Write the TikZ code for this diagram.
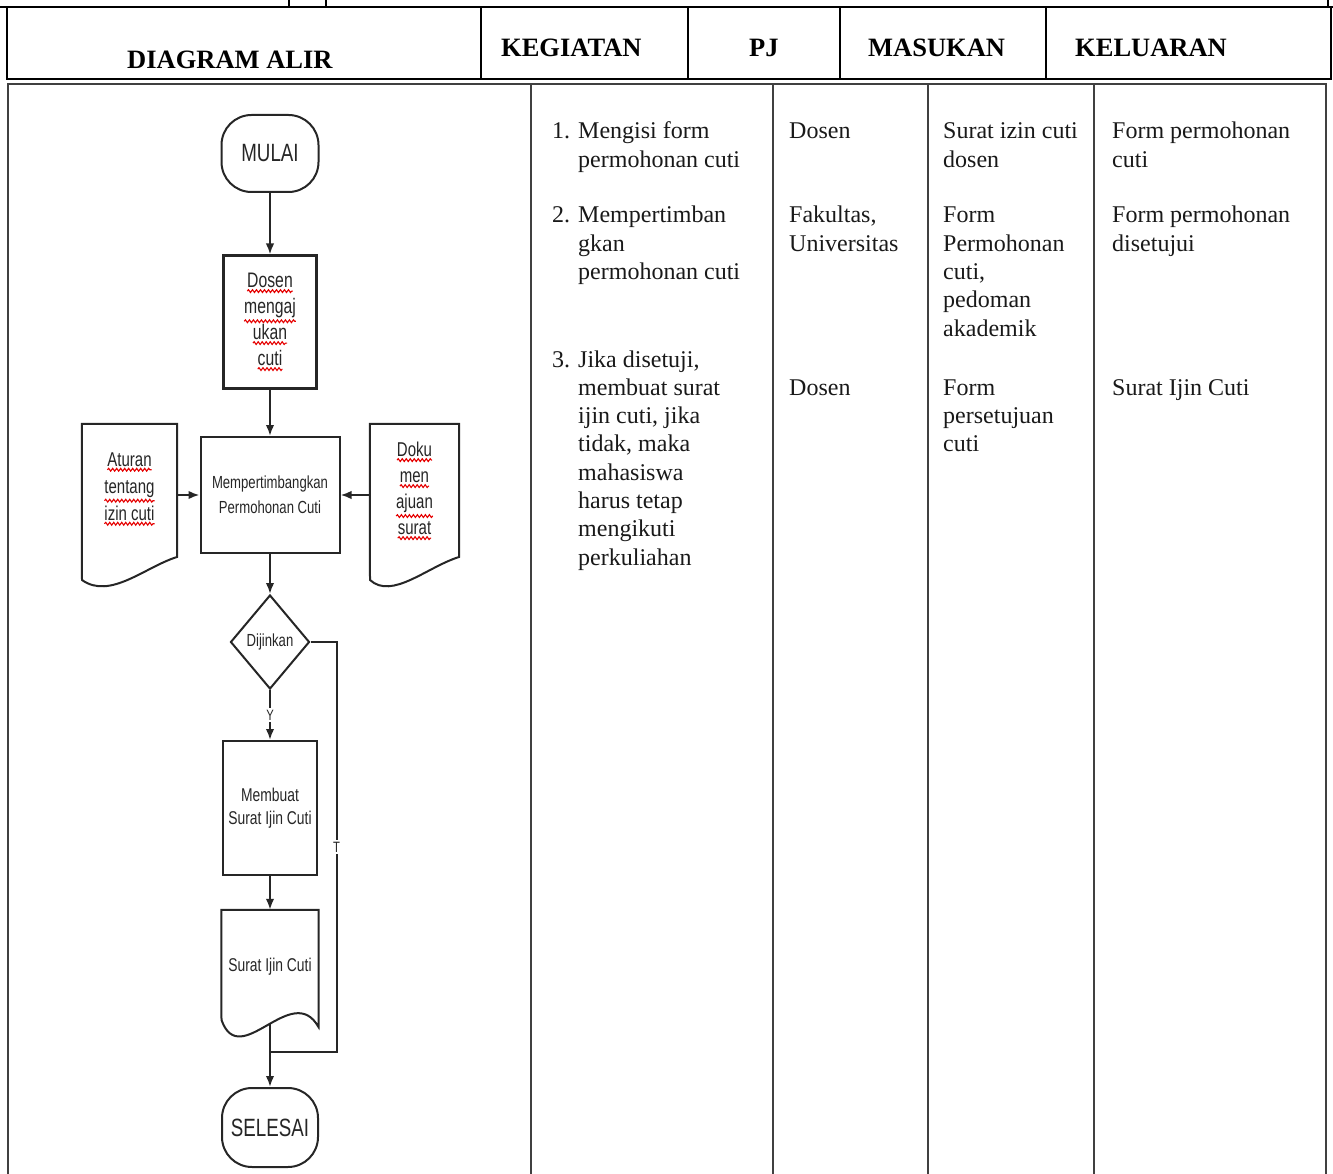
\documentclass[tikz,border=0pt]{standalone}
\usepackage{fontspec}
\setmainfont{Liberation Serif}
\newfontfamily\flowfont[FakeStretch=0.75]{Liberation Sans}
\usetikzlibrary{arrows.meta,decorations.pathmorphing,shapes.geometric,calc}

% word with a red wavy underline
\newcommand\redsq[1]{\tikz[baseline=(sqw.base),x=1pt,y=1pt]{%
  \node[rectangle,draw=none,fill=none,minimum width=0pt,minimum height=0pt,
        inner sep=0pt,outer sep=0pt,anchor=base,line width=0.4pt](sqw){#1};%
  \draw[red!90!black,line width=1.1pt,decorate,
        decoration={snake,amplitude=1.4pt,segment length=4pt}]
       ([yshift=-3.5pt]sqw.south west)--([yshift=-3.5pt]sqw.south east);}}

\begin{document}
\begin{tikzpicture}[x=1pt,y=-1pt,
  hdr/.style={font=\fontsize{26.5}{30}\selectfont\bfseries, inner sep=0pt, anchor=base west},
  tcell/.style={font=\fontsize{24}{28.3}\selectfont, text=black!90, inner sep=0pt, anchor=base west},
  tline/.style={line width=2.6pt, black},
  gridline/.style={line width=2.4pt, black!75},
  fbox/.style={draw=black!85, line width=2pt},
  ftext/.style={font=\flowfont\fontsize{18}{25}\selectfont, text=black!85, align=center},
  fline/.style={line width=2pt, black!85},
  arr/.style={fline, -{Latex[length=11pt,width=8.5pt]}},
  lbl/.style={fill=white, inner sep=2pt, font=\flowfont\fontsize{15}{15}\selectfont, text=black!85}
]
\useasboundingbox (0,0) rectangle (1333,1174);

% ---------- header row ----------
\draw[tline] (0,7) -- (1333,7);
\draw[tline] (289,0) -- (289,7) (326,0) -- (326,7) (1328,0) -- (1328,7);
\draw[tline] (7,7) rectangle (1331,79);
\foreach \xx in {481,688,840,1046} \draw[tline] (\xx,7) -- (\xx,79);
\node[hdr] (hflow) at (127,69) {DIAGRAM ALIR};
\node[hdr] (hkeg)  at (501,57) {KEGIATAN};
\node[hdr] (hpj)   at (749,57) {PJ};
\node[hdr] (hmas)  at (868,57) {MASUKAN};
\node[hdr] (hkel)  at (1075,57) {KELUARAN};

% ---------- body grid ----------
\draw[gridline] (8,1174) -- (8,84) -- (1326,84) -- (1326,1174);
\foreach \xx in {531,773,928,1094} \draw[gridline] (\xx,84) -- (\xx,1174);

% ---------- KEGIATAN ----------
\node[tcell] (k1) at (552,139) {\begin{tabular}[t]{@{}p{26pt}@{}l@{}}1.&Mengisi form\\&permohonan cuti\end{tabular}};
\node[tcell] (k2) at (552,223) {\begin{tabular}[t]{@{}p{26pt}@{}l@{}}2.&Mempertimban\\&gkan\\&permohonan cuti\end{tabular}};
\node[tcell] (k3) at (552,367) {\begin{tabular}[t]{@{}p{26pt}@{}l@{}}3.&Jika disetuji,\\&membuat surat\\&ijin cuti, jika\\&tidak, maka\\&mahasiswa\\&harus tetap\\&mengikuti\\&perkuliahan\end{tabular}};

% ---------- PJ ----------
\node[tcell] (p1) at (789,139) {Dosen};
\node[tcell] (p2) at (789,223) {\begin{tabular}[t]{@{}l@{}}Fakultas,\\Universitas\end{tabular}};
\node[tcell] (p3) at (789,395) {Dosen};

% ---------- MASUKAN ----------
\node[tcell] (m1) at (943,139) {\begin{tabular}[t]{@{}l@{}}Surat izin cuti\\dosen\end{tabular}};
\node[tcell] (m2) at (943,223) {\begin{tabular}[t]{@{}l@{}}Form\\Permohonan\\cuti,\\pedoman\\akademik\end{tabular}};
\node[tcell] (m3) at (943,395) {\begin{tabular}[t]{@{}l@{}}Form\\persetujuan\\cuti\end{tabular}};

% ---------- KELUARAN ----------
\node[tcell] (o1) at (1112,139) {\begin{tabular}[t]{@{}l@{}}Form permohonan\\cuti\end{tabular}};
\node[tcell] (o2) at (1112,223) {\begin{tabular}[t]{@{}l@{}}Form permohonan\\disetujui\end{tabular}};
\node[tcell] (o3) at (1112,395) {Surat Ijin Cuti};

% ---------- flowchart ----------
\node[fbox, rounded corners=30pt, minimum width=97pt, minimum height=77pt,
      ftext, font=\flowfont\fontsize{25}{25}\selectfont] (mulai) at (270,153.5) {MULAI};

\node[fbox, line width=3pt, minimum width=93pt, minimum height=132pt,
      ftext, font=\flowfont\fontsize{21}{26}\selectfont] (ajukan) at (270,322)
      {\redsq{Dosen}\\\redsq{mengaj}\\\redsq{ukan}\\\redsq{cuti}};

\node[fbox, minimum width=139pt, minimum height=116pt,
      ftext, font=\flowfont\fontsize{17.5}{25}\selectfont] (pert) at (270,495)
      {Mempertimbangkan\\Permohonan Cuti};

% document: rules on leave
\node[minimum width=95pt, minimum height=130pt, ftext,
      font=\flowfont\fontsize{20}{27}\selectfont] (aturan) at (129.5,489)
      {\redsq{Aturan}\\\redsq{tentang}\\\redsq{izin cuti}};
\draw[fbox] (aturan.north west) -- (aturan.north east) -- (177,557)
      .. controls (145,567) and (110,600) .. (82,580) -- cycle;

% document: submission papers
\node[minimum width=89pt, minimum height=134pt, ftext,
      font=\flowfont\fontsize{20}{26}\selectfont] (doku) at (414.5,491)
      {\redsq{Doku}\\\redsq{men}\\\redsq{ajuan}\\\redsq{surat}};
\draw[fbox] (doku.north west) -- (doku.north east) -- (459,557)
      .. controls (427,567) and (392,600) .. (370,580) -- cycle;

\node[fbox, diamond, minimum width=79pt, minimum height=94pt, inner sep=1pt,
      ftext, font=\flowfont\fontsize{17.5}{17.5}\selectfont] (dij) at (270,642) {Dijinkan};

\node[fbox, minimum width=94pt, minimum height=134pt,
      ftext, font=\flowfont\fontsize{18.5}{23}\selectfont] (membuat) at (270,808)
      {Membuat\\Surat Ijin Cuti};

% document: leave letter
\node[minimum width=97pt, minimum height=113pt, ftext,
      font=\flowfont\fontsize{18.5}{23}\selectfont] (suratdoc) at (270,966.5) {Surat Ijin Cuti};
\draw[fbox] (suratdoc.north west) -- (suratdoc.north east) -- (318.5,1027)
      .. controls (292,980) and (240,1072) .. (221.5,1020) -- cycle;

\node[fbox, rounded corners=30pt, minimum width=96pt, minimum height=79pt,
      ftext, font=\flowfont\fontsize{25}{25}\selectfont] (selesai) at (270,1127.5) {SELESAI};

% connectors
\path (dij.east) ++(26,0) coordinate (tc);
\coordinate (join) at (270,1052);

\draw[arr] (mulai.south) -- (ajukan.north);
\draw[arr] (ajukan.south) -- (pert.north);
\draw[arr] (aturan.east |- pert.west) -- (pert.west);
\draw[arr] (doku.west |- pert.east) -- (pert.east);
\draw[arr] (pert.south) -- (dij.north);
\draw[arr] (dij.south) -- node[lbl] {Y} (membuat.north);
\draw[arr] (membuat.south) -- (suratdoc.north);
\draw[arr] (suratdoc.south) -- (selesai.north);
\draw[fline] (dij.east) -- (tc) -- node[lbl] {T} (tc |- join) -- (join);

\end{tikzpicture}
\end{document}
